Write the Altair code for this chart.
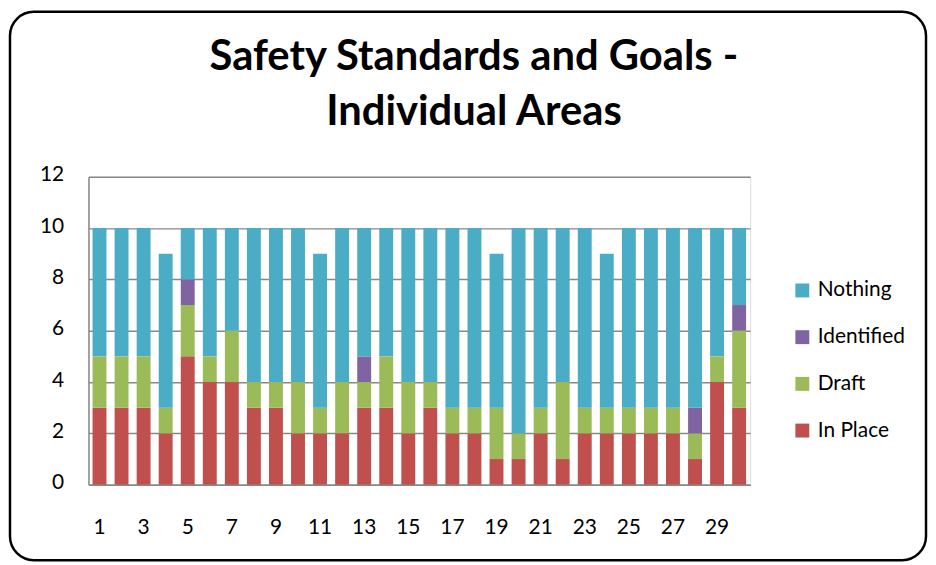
import altair as alt
import pandas as pd

areas = list(range(1, 31))
in_place = [3, 3, 3, 2, 5, 4, 4, 3, 3, 2, 2, 2, 3, 3, 2, 3, 2, 2, 1, 1, 2, 1, 2, 2, 2, 2, 2, 1, 4, 3]
draft = [2, 2, 2, 1, 2, 1, 2, 1, 1, 2, 1, 2, 1, 2, 2, 1, 1, 1, 2, 1, 1, 3, 1, 1, 1, 1, 1, 1, 1, 3]
identified = [0, 0, 0, 0, 1, 0, 0, 0, 0, 0, 0, 0, 1, 0, 0, 0, 0, 0, 0, 0, 0, 0, 0, 0, 0, 0, 0, 1, 0, 1]
nothing = [5, 5, 5, 6, 2, 5, 4, 6, 6, 6, 6, 6, 5, 5, 6, 6, 7, 7, 6, 8, 7, 6, 7, 6, 7, 7, 7, 7, 5, 3]

series_names = ["In Place", "Draft", "Identified", "Nothing"]
series_values = [in_place, draft, identified, nothing]
legend_order = ["Nothing", "Identified", "Draft", "In Place"]
legend_colors = ["#4BACC6", "#8064A2", "#9BBB59", "#C0504D"]
y_ticks = [0, 2, 4, 6, 8, 10, 12]
x_labels = [1, 3, 5, 7, 9, 11, 13, 15, 17, 19, 21, 23, 25, 27, 29]
title_lines = "Safety Standards and Goals -\nIndividual Areas"

rows = []
for rank, (name, vals) in enumerate(zip(series_names, series_values)):
    for a, v in zip(areas, vals):
        rows.append({"area": a, "status": name, "count": v, "rank": rank})
df = pd.DataFrame(rows)

W, H = 666, 310
FONT = "Lato"

bars = alt.Chart(df).mark_bar(size=14).encode(
    x=alt.X(
        "area:O",
        scale=alt.Scale(paddingInner=0.37, paddingOuter=0.185),
        axis=alt.Axis(
            title=None,
            labelAngle=0,
            values=x_labels,
            ticks=False,
            domainColor="#888888",
            domainWidth=1.5,
            labelFont=FONT,
            labelFontSize=21,
            labelColor="#000000",
            labelPadding=32,
        ),
    ),
    y=alt.Y(
        "count:Q",
        stack="zero",
        scale=alt.Scale(domain=[0, 12]),
        axis=alt.Axis(
            title=None,
            values=y_ticks,
            ticks=False,
            grid=True,
            gridColor="#888888",
            gridWidth=1.5,
            domainColor="#888888",
            domainWidth=1.5,
            labelFont=FONT,
            labelFontSize=21,
            labelColor="#000000",
            labelPadding=25,
            labelOffset=-2,
        ),
    ),
    color=alt.Color(
        "status:N",
        scale=alt.Scale(domain=legend_order, range=legend_colors),
        legend=alt.Legend(
            title=None,
            orient="none",
            legendX=708,
            legendY=104,
            symbolType="square",
            symbolSize=196,
            symbolStrokeWidth=0,
            labelFont=FONT,
            labelFontSize=21,
            labelColor="#000000",
            labelOffset=5,
            rowPadding=25,
        ),
    ),
    order=alt.Order("rank:Q", sort="ascending"),
)

title = alt.Chart(pd.DataFrame({"t": [title_lines]})).mark_text(
    font=FONT,
    fontSize=42,
    fontWeight="bold",
    align="center",
    baseline="alphabetic",
    lineBreak="\n",
    lineHeight=55,
    color="#000000",
).encode(
    text="t:N",
    x=alt.value(388),
    y=alt.value(-107),
)

frame = alt.Chart(pd.DataFrame({"f": [0]})).mark_rect(
    fill=None,
    stroke="#000000",
    strokeWidth=2.5,
    cornerRadius=24,
).encode(
    x=alt.value(-79),
    x2=alt.value(843),
    y=alt.value(-166),
    y2=alt.value(386),
)

chart = alt.layer(frame, bars, title).properties(
    width=W,
    height=H,
    padding={"left": 0, "top": 0, "right": 0, "bottom": 0},
).configure_view(stroke=None).configure(background="#FFFFFF")

chart.save("out.html", embed_options={"renderer": "svg", "actions": False})
